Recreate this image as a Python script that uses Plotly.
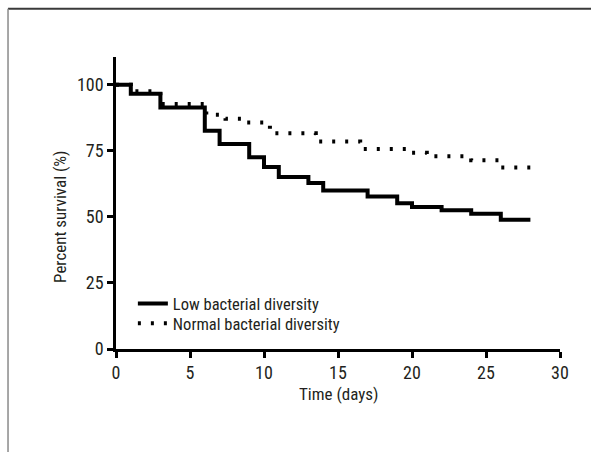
import plotly.graph_objects as go

# Kaplan-Meier style survival data
low_t = [0, 1, 3, 6, 7, 9, 10, 11, 13, 14, 17, 19, 20, 22, 24, 26, 28]
low_s = [100, 96.6, 91.4, 82.6, 77.6, 72.6, 68.9, 65.1, 62.8, 60.0, 57.7, 55.2, 53.7, 52.5, 51.2, 48.9, 48.9]

norm_t = [0, 1, 3, 6.1, 7.4, 8.6, 10.4, 13.5, 16.5, 19.6, 21, 24, 26, 28]
norm_s = [100, 97.5, 92.7, 88.6, 87.1, 85.7, 81.6, 78.5, 75.7, 74.3, 72.9, 71.4, 68.7, 68.7]

x_ticks = [0, 5, 10, 15, 20, 25, 30]
y_ticks = [0, 25, 50, 75, 100]

FONT = "Liberation Sans Narrow, Roboto Condensed, DejaVu Sans Condensed, Open Sans, sans-serif"
TXT = "#231f20"

fig = go.Figure()
fig.add_trace(go.Scatter(
    x=low_t, y=low_s, mode="lines", line_shape="hv",
    line=dict(color="black", width=4), name="Low bacterial diversity",
    legend="legend"))
fig.add_trace(go.Scatter(
    x=norm_t, y=norm_s, mode="lines", line_shape="hv",
    line=dict(color="black", width=4, dash="3px,10px"), name="Normal bacterial diversity",
    legend="legend2"))

axis_common = dict(showline=True, linewidth=2.5, linecolor="black", ticks="outside",
                   ticklen=6, tickwidth=2.5, tickcolor="black", showgrid=False,
                   zeroline=False, tickfont=dict(family=FONT, size=18, color=TXT))

leg_common = dict(xanchor="left", yanchor="middle", bgcolor="rgba(0,0,0,0)",
                  font=dict(family=FONT, size=16.5, color=TXT), itemwidth=30)

fig.update_layout(
    width=591, height=452,
    margin=dict(l=116, r=31, t=57, b=103),
    paper_bgcolor="white", plot_bgcolor="white",
    font=dict(family=FONT, size=17, color=TXT),
    xaxis=dict(range=[0, 30], tickvals=x_ticks, **axis_common),
    yaxis=dict(range=[0, 110.5], tickvals=y_ticks, **axis_common),
    showlegend=True,
    legend=dict(x=0.038, y=0.155, **leg_common),
    legend2=dict(x=0.038, y=0.087, **leg_common),
    annotations=[
        dict(text="Time (days)", xref="paper", yref="paper", x=0.5, y=-0.155,
             xanchor="center", yanchor="middle", showarrow=False,
             font=dict(family=FONT, size=17, color=TXT)),
        dict(text="Percent survival (%)", xref="paper", yref="y", x=-0.126, y=50,
             xanchor="center", yanchor="middle", textangle=-90, showarrow=False,
             font=dict(family=FONT, size=17, color=TXT)),
    ],
    shapes=[
        dict(type="line", xref="paper", yref="paper", x0=-0.2432, x1=1.2,
             y0=1.1654, y1=1.1654, line=dict(color="#3a3a3a", width=2)),
        dict(type="line", xref="paper", yref="paper", x0=-0.2432, x1=-0.2432,
             y0=1.1654, y1=-0.4, line=dict(color="#8a8a8a", width=1.5)),
    ],
)

fig.write_html("out.html")
